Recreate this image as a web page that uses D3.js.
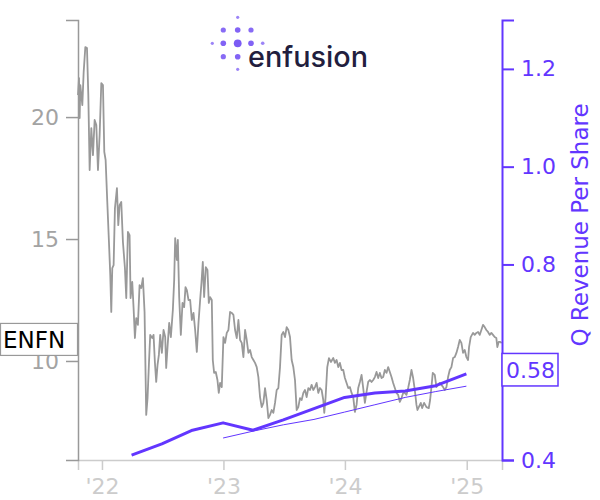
<!DOCTYPE html>
<html><head><meta charset="utf-8">
<script src="https://cdn.jsdelivr.net/npm/d3@7"></script>
<style>body{margin:0;background:#fff} svg{display:block}</style>
</head><body>
<svg id="c" width="600" height="500"></svg>
<script>
const ticker = "ENFN";
const rightTitle = "Q Revenue Per Share";
const lastRevLabel = "0.58";
const logoWord = "enfusion";

const priceData = [
["2021-10-21",20.90],["2021-10-24",21.60],["2021-10-26",19.96],["2021-10-28",21.31],["2021-11-03",20.49],["2021-11-07",21.84],["2021-11-12",22.87],["2021-11-17",22.83],["2021-11-21",20.90],["2021-11-25",17.83],["2021-11-30",19.55],["2021-12-05",18.44],["2021-12-10",19.88],["2021-12-15",19.67],["2021-12-20",17.83],["2021-12-25",19.26],["2021-12-30",21.39],
["2022-01-04",21.31],["2022-01-08",18.57],["2022-01-12",18.24],["2022-01-17",16.52],["2022-01-22",14.88],["2022-01-26",13.52],["2022-01-29",12.01],["2022-02-01",13.81],["2022-02-05",13.93],["2022-02-09",16.27],["2022-02-15",17.09],["2022-02-19",15.57],["2022-02-23",16.39],["2022-02-28",16.52],["2022-03-05",14.88],["2022-03-11",13.81],["2022-03-15",12.58],["2022-03-20",15.29],["2022-03-25",15.16],["2022-03-28",12.58],["2022-04-02",13.24],["2022-04-06",12.17],["2022-04-10",10.94],["2022-04-14",11.76],["2022-04-19",11.48],["2022-04-24",13.11],["2022-04-29",12.99],["2022-05-04",13.40],["2022-05-09",12.01],["2022-05-14",7.79],["2022-05-18",8.48],["2022-05-22",9.84],["2022-05-26",11.07],["2022-06-01",10.94],["2022-06-05",11.07],["2022-06-09",9.96],["2022-06-13",9.14],["2022-06-17",9.84],["2022-06-21",10.25],["2022-06-25",11.07],["2022-06-30",10.33],["2022-07-05",11.27],["2022-07-10",10.98],["2022-07-13",9.71],["2022-07-17",10.57],["2022-07-22",11.56],["2022-07-27",10.98],["2022-08-02",12.09],["2022-08-06",13.32],["2022-08-09",15.04],["2022-08-14",14.14],["2022-08-17",14.96],["2022-08-21",12.62],["2022-08-26",11.07],["2022-08-31",12.38],["2022-09-05",12.21],["2022-09-09",13.03],["2022-09-13",12.91],["2022-09-18",12.50],["2022-09-23",12.50],["2022-09-28",11.68],["2022-10-03",11.97],["2022-10-08",11.27],["2022-10-13",10.37],["2022-10-18",11.56],["2022-10-23",12.50],["2022-10-27",13.20],["2022-10-31",14.06],["2022-11-04",12.62],["2022-11-09",13.85],["2022-11-14",13.73],["2022-11-18",12.38],["2022-11-22",12.62],["2022-11-27",12.50],["2022-11-30",10.04],["2022-12-04",9.51],["2022-12-09",9.55],["2022-12-14",9.22],["2022-12-18",8.69],["2022-12-22",9.10],["2022-12-27",8.93],
["2023-01-01",10.98],["2023-01-06",10.74],["2023-01-11",11.15],["2023-01-16",11.27],["2023-01-21",12.01],["2023-01-26",11.97],["2023-01-31",11.89],["2023-02-05",11.27],["2023-02-10",10.94],["2023-02-15",11.68],["2023-02-20",10.86],["2023-02-25",10.74],["2023-03-02",10.16],["2023-03-07",11.27],["2023-03-12",10.86],["2023-03-17",10.33],["2023-03-22",10.45],["2023-03-27",10.16],["2023-04-01",10.04],["2023-04-06",9.92],["2023-04-11",9.75],["2023-04-16",9.34],["2023-04-21",8.52],["2023-04-26",8.11],["2023-05-01",8.28],["2023-05-06",8.89],["2023-05-11",8.40],["2023-05-16",7.66],["2023-05-21",7.79],["2023-05-26",7.99],["2023-05-31",7.87],["2023-06-05",8.28],["2023-06-10",8.81],["2023-06-15",8.89],["2023-06-20",9.75],["2023-06-25",11.07],["2023-06-30",11.19],["2023-07-05",10.98],["2023-07-10",11.39],["2023-07-15",11.27],["2023-07-20",10.98],["2023-07-25",10.04],["2023-07-30",9.75],["2023-08-04",9.22],["2023-08-09",7.99],["2023-08-14",8.11],["2023-08-19",8.48],["2023-08-24",8.40],["2023-08-29",8.69],["2023-09-03",8.81],["2023-09-08",8.52],["2023-09-13",8.89],["2023-09-18",8.81],["2023-09-23",9.02],["2023-09-28",8.81],["2023-10-03",8.93],["2023-10-08",9.10],["2023-10-13",8.69],["2023-10-18",8.89],["2023-10-23",8.81],["2023-10-28",8.40],["2023-10-31",7.87],["2023-11-04",8.52],["2023-11-09",9.75],["2023-11-14",10.12],["2023-11-20",9.96],["2023-11-27",10.12],["2023-12-02",9.92],["2023-12-07",10.04],["2023-12-12",9.75],["2023-12-17",9.92],["2023-12-22",9.63],["2023-12-27",9.63],
["2024-01-01",9.30],["2024-01-06",9.10],["2024-01-11",8.89],["2024-01-16",8.93],["2024-01-21",8.69],["2024-01-26",8.52],["2024-01-31",7.91],["2024-02-05",8.20],["2024-02-10",8.89],["2024-02-15",9.14],["2024-02-20",9.43],["2024-02-25",8.89],["2024-03-01",8.28],["2024-03-06",8.73],["2024-03-11",9.14],["2024-03-16",9.22],["2024-03-21",9.14],["2024-03-26",9.22],["2024-03-31",9.34],["2024-04-05",9.55],["2024-04-10",9.30],["2024-04-15",9.51],["2024-04-20",9.30],["2024-04-25",9.34],["2024-04-30",9.63],["2024-05-05",9.51],["2024-05-10",9.75],["2024-05-15",9.55],["2024-05-20",9.34],["2024-05-25",9.10],["2024-05-30",8.89],["2024-06-04",8.69],["2024-06-09",8.61],["2024-06-14",8.32],["2024-06-19",8.48],["2024-06-24",8.69],["2024-06-29",8.69],["2024-07-04",8.61],["2024-07-09",8.89],["2024-07-14",9.22],["2024-07-19",9.63],["2024-07-24",9.30],["2024-07-29",8.81],["2024-08-03",8.20],["2024-08-06",7.99],["2024-08-10",8.11],["2024-08-16",8.28],["2024-08-20",8.07],["2024-08-26",8.28],["2024-09-02",8.11],["2024-09-09",8.07],["2024-09-13",8.40],["2024-09-17",8.93],["2024-09-21",9.51],["2024-09-27",9.43],["2024-10-02",8.93],["2024-10-07",9.02],["2024-10-12",9.10],["2024-10-17",9.02],["2024-10-22",8.93],["2024-10-27",8.81],["2024-11-01",8.93],["2024-11-06",9.34],["2024-11-11",9.63],["2024-11-16",9.75],["2024-11-21",10.12],["2024-11-26",10.16],["2024-12-01",10.33],["2024-12-06",10.57],["2024-12-11",10.86],["2024-12-16",10.74],["2024-12-21",10.33],["2024-12-26",10.45],["2024-12-31",10.16],
["2025-01-05",10.04],["2025-01-08",10.57],["2025-01-13",10.98],["2025-01-20",11.15],["2025-01-25",11.07],["2025-01-30",11.15],["2025-02-04",11.19],["2025-02-09",11.07],["2025-02-14",11.27],["2025-02-19",11.48],["2025-02-24",11.39],["2025-03-01",11.27],["2025-03-06",11.19],["2025-03-11",11.07],["2025-03-16",11.15],["2025-03-21",11.07],["2025-03-26",10.98],["2025-03-31",10.94],["2025-04-03",10.57],["2025-04-07",10.78],["2025-04-12",10.78],["2025-04-16",10.74]
];

const revQuarters = ["2022-03-31","2022-06-30","2022-09-30","2022-12-31","2023-03-31","2023-06-30","2023-09-30","2023-12-31","2024-03-31","2024-06-30","2024-09-30","2024-12-31"];
const revValues   = [0.410,0.433,0.461,0.476,0.461,0.482,0.505,0.528,0.537,0.541,0.552,0.576];
const avgQuarters = ["2022-12-31","2023-03-31","2023-06-30","2023-09-30","2023-12-31","2024-03-31","2024-06-30","2024-09-30","2024-12-31"];
const avgValues   = [0.445,0.459,0.472,0.483,0.498,0.513,0.528,0.540,0.551];

const yearTicks  = ["2022-01-01","2023-01-01","2024-01-01","2025-01-01"];
const leftTicks  = [10,15,20];
const rightTicks = [0.4,0.6,0.8,1.0,1.2];

const PURPLE = "#6236ff";
const parse = d3.utcParse("%Y-%m-%d");
const svg = d3.select("#c");

const x  = d3.scaleUtc().domain([parse("2021-10-21"), parse("2025-04-17")]).range([78, 502]);
const yL = d3.scaleLinear().domain([5.94, 23.98]).range([460, 20]);
const yR = d3.scaleLinear().domain([0.4, 1.3]).range([460, 20]);

// logo
const logoDots = [
  [237.7,17.3,1.6,0.75],[223.3,30,2.6,0.9],[237.7,30,2.8,0.95],[251,30,2.6,0.9],
  [212.3,43.3,1.6,0.75],[223.3,43.3,2.8,0.95],[237.7,43.3,3.9,1],[251,43.3,2.8,0.95],[262.7,43.3,1.8,0.75],
  [223.3,56.7,2.6,0.9],[237.7,56.7,2.8,0.95],[237.7,69.3,1.6,0.75]
];
const logo = svg.append("g");
logo.selectAll("circle").data(logoDots).join("circle")
  .attr("cx", d => d[0]).attr("cy", d => d[1]).attr("r", d => d[2])
  .attr("fill", "#7b5bf4").attr("opacity", d => d[3]);
logo.append("text").attr("x", 248).attr("y", 67)
  .attr("font-family", "Inter, 'Noto Sans', sans-serif").attr("font-size", 29).attr("font-weight", 500)
  .attr("fill", "#221e3e").attr("textLength", 120).attr("lengthAdjust", "spacingAndGlyphs")
  .text(logoWord);

// lines
const priceLine = d3.line().x(d => x(parse(d[0]))).y(d => yL(d[1]));
svg.append("path").datum(priceData).attr("d", priceLine)
  .attr("fill", "none").attr("stroke", "#999").attr("stroke-width", 1.8).attr("stroke-linejoin", "round");

const revLine = d3.line().x(d => x(parse(d[0]))).y(d => yR(d[1]));
svg.append("path").datum(avgQuarters.map((q, i) => [q, avgValues[i]])).attr("d", revLine)
  .attr("fill", "none").attr("stroke", PURPLE).attr("stroke-width", 1);
svg.append("path").datum(revQuarters.map((q, i) => [q, revValues[i]])).attr("d", revLine)
  .attr("fill", "none").attr("stroke", PURPLE).attr("stroke-width", 3).attr("stroke-linejoin", "round");

// axes
const gx = svg.append("g").attr("transform", "translate(0,460)")
  .call(d3.axisBottom(x).tickValues(yearTicks.map(parse)).tickFormat(d3.utcFormat("'%y"))
    .tickSize(10).tickSizeOuter(10).tickPadding(8));
gx.attr("font-size", 22).attr("font-family", "DejaVu Sans");
gx.selectAll(".domain, .tick line").attr("stroke", "#ccc").attr("stroke-width", 1.5);
gx.selectAll("text").attr("fill", "#ccc");

const gl = svg.append("g").attr("transform", "translate(78,0)")
  .call(d3.axisLeft(yL).tickValues(leftTicks).tickSize(12).tickSizeOuter(12).tickPadding(7));
gl.attr("font-size", 22).attr("font-family", "DejaVu Sans");
gl.selectAll(".domain, .tick line").attr("stroke", "#999").attr("stroke-width", 1.5);
gl.selectAll("text").attr("fill", "#a3a3a3");

const gr = svg.append("g").attr("transform", "translate(502,0)")
  .call(d3.axisRight(yR).tickValues(rightTicks).tickFormat(d3.format(".1f")).tickSize(12).tickSizeOuter(12).tickPadding(7));
gr.attr("font-size", 22).attr("font-family", "DejaVu Sans");
gr.selectAll(".domain, .tick line").attr("stroke", PURPLE).attr("stroke-width", 2);
gr.selectAll("text").attr("fill", PURPLE);

svg.append("text").attr("transform", "translate(588,225) rotate(-90)")
  .attr("text-anchor", "middle").attr("font-family", "DejaVu Sans").attr("font-size", 23)
  .attr("fill", PURPLE).text(rightTitle);

// last value labels
const lastPrice = priceData[priceData.length - 1][1];
const py = yL(lastPrice);
svg.append("rect").attr("x", 0.5).attr("y", py - 19.5).attr("width", 77).attr("height", 32)
  .attr("fill", "#fff").attr("stroke", "#999").attr("stroke-width", 1.2);
svg.append("text").attr("x", 3).attr("y", py + 5.5).attr("font-family", "DejaVu Sans")
  .attr("font-size", 23).attr("fill", "#000").text(ticker);

const ry = yR(revValues[revValues.length - 1]);
svg.append("rect").attr("x", 502).attr("y", ry - 20.5).attr("width", 56).attr("height", 32.5)
  .attr("fill", "#fff").attr("stroke", PURPLE).attr("stroke-width", 1.5);
svg.append("text").attr("x", 506).attr("y", ry + 4.5).attr("font-family", "DejaVu Sans")
  .attr("font-size", 22).attr("fill", PURPLE).text(lastRevLabel);
</script>
</body></html>
